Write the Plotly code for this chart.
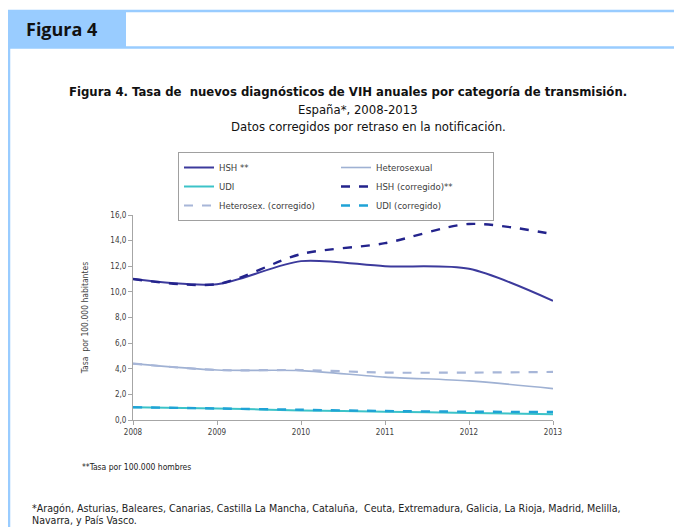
import plotly.graph_objects as go

years = [2008, 2009, 2010, 2011, 2012, 2013]
hsh = [11.0, 10.6, 12.4, 12.0, 11.8, 9.3]
hetero = [4.4, 3.9, 3.85, 3.35, 3.05, 2.45]
udi = [1.0, 0.9, 0.75, 0.65, 0.55, 0.45]
hsh_corr = [11.0, 10.6, 12.95, 13.8, 15.3, 14.5]
hetero_corr = [4.4, 3.9, 3.9, 3.7, 3.7, 3.75]
udi_corr = [1.0, 0.9, 0.8, 0.7, 0.65, 0.62]

names = ["HSH **", "Heterosexual", "UDI", "HSH (corregido)**",
         "Heterosex. (corregido)", "UDI (corregido)"]
series = [hsh, hetero, udi, hsh_corr, hetero_corr, udi_corr]
colors = ["#3C3A9C", "#9FB1D3", "#3CC3C8", "#23238C", "#A7B6D8", "#1FA3D6"]
dashes = ["solid", "solid", "solid", "dash", "dash", "dash"]
widths = [2, 1.6, 2, 2.4, 2.2, 2.4]

# page body has an 8px margin; work in reference pixel coords and shift
OFF = 8
W, H = 682 - OFF, 527 - OFF
L, R, T, B = 133, 553, 215, 420  # plot area in reference pixels


def px(x):
    return (x - L) / (R - L)


def py(y):
    return (B - y) / (B - T)


fig = go.Figure()
for n, s, c, d, w in zip(names, series, colors, dashes, widths):
    fig.add_trace(go.Scatter(x=years, y=s, name=n, mode="lines",
                             line=dict(color=c, dash=d, width=w, shape="spline", smoothing=0.8)))

frame = "#99CCFF"
shapes = [
    dict(type="rect", xref="paper", yref="paper", x0=px(8), x1=px(126), y0=py(47), y1=py(11),
         fillcolor=frame, line=dict(width=0), layer="below"),
    dict(type="line", xref="paper", yref="paper", x0=px(8), x1=px(690), y0=py(11), y1=py(11),
         line=dict(color=frame, width=2.5)),
    dict(type="line", xref="paper", yref="paper", x0=px(8), x1=px(690), y0=py(47.5), y1=py(47.5),
         line=dict(color=frame, width=2.5)),
    dict(type="line", xref="paper", yref="paper", x0=px(9), x1=px(9), y0=py(47), y1=py(540),
         line=dict(color=frame, width=2.5)),
]

font_main = "Liberation Sans Narrow, DejaVu Sans Condensed, Arial Narrow, sans-serif"
ann = [
    dict(text="<b>Figura 4</b>", x=px(24), y=py(29), xanchor="left", yanchor="middle",
         font=dict(size=18, color="#111111", family="Open Sans, sans-serif")),
    dict(text="<b>Figura 4. Tasa de  nuevos diagnósticos de VIH anuales por categoría de transmisión.</b>",
         x=px(348), y=py(92), xanchor="center", yanchor="middle",
         font=dict(size=13, color="#111111", family=font_main)),
    dict(text="España*, 2008-2013", x=px(358), y=py(109), xanchor="center", yanchor="middle",
         font=dict(size=13, color="#111111", family=font_main)),
    dict(text="Datos corregidos por retraso en la notificación.", x=px(368), y=py(126),
         xanchor="center", yanchor="middle",
         font=dict(size=13, color="#111111", family=font_main)),
    dict(text="**Tasa por 100.000 hombres", x=px(80), y=py(467), xanchor="left", yanchor="middle",
         font=dict(size=8.5, color="#222222", family=font_main)),
    dict(text="*Aragón, Asturias, Baleares, Canarias, Castilla La Mancha, Cataluña,  Ceuta, Extremadura, Galicia, La Rioja, Madrid, Melilla,",
         x=px(30), y=py(508), xanchor="left", yanchor="middle",
         font=dict(size=10.6, color="#222222", family=font_main)),
    dict(text="Navarra, y País Vasco.", x=px(30), y=py(520), xanchor="left", yanchor="middle",
         font=dict(size=10.6, color="#222222", family=font_main)),
]
for a in ann:
    a.update(xref="paper", yref="paper", showarrow=False)

tickfont = dict(size=8, color="#404040", family="DejaVu Sans Condensed, sans-serif")
fig.update_layout(
    width=W, height=H,
    margin=dict(l=L - OFF, r=W - (R - OFF), t=T - OFF, b=H - (B - OFF), autoexpand=False),
    paper_bgcolor="white", plot_bgcolor="white",
    separators=",.",
    showlegend=True,
    legend=dict(orientation="h", x=px(178), y=py(152), xanchor="left", yanchor="top",
                xref="paper", yref="paper",
                entrywidth=112, entrywidthmode="pixels",
                bordercolor="#A0A0A0", borderwidth=1, bgcolor="white",
                font=dict(size=9.5, color="#404040", family="DejaVu Sans Condensed, sans-serif"),
                tracegroupgap=0, itemwidth=30),
    shapes=shapes, annotations=ann,
    xaxis=dict(range=[2008, 2013], tickvals=years, ticktext=[str(y) for y in years],
               showgrid=False, zeroline=False, showline=True, linecolor="#A6A6A6", linewidth=1,
               ticks="outside", ticklen=4, tickcolor="#A6A6A6", tickfont=tickfont),
    yaxis=dict(range=[0, 16], dtick=2, tickformat=".1f", showgrid=False, zeroline=False,
               showline=True, linecolor="#A6A6A6", linewidth=1, ticks="outside", ticklen=4,
               tickcolor="#A6A6A6", tickfont=tickfont,
               title=dict(text="Tasa  por 100.000 habitantes", standoff=20,
                          font=dict(size=8.5, color="#404040", family="DejaVu Sans Condensed, sans-serif"))),
)

fig.write_html("out.html")
